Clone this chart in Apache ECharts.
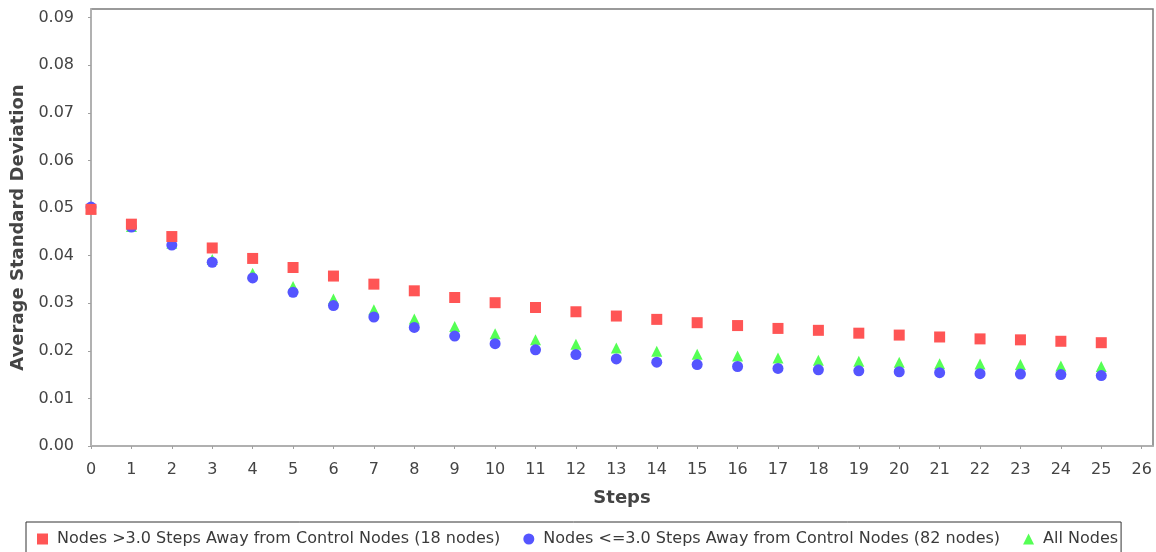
<!DOCTYPE html>
<html>
<head>
<meta charset="utf-8">
<script src="https://cdn.jsdelivr.net/npm/echarts@6/dist/echarts.min.js"></script>
<style>
  html, body { margin: 0; padding: 0; background: #fff; }
  #main { width: 1156px; height: 552px; }
</style>
</head>
<body>
<div id="main"></div>
<script>
// steps 0..25
const steps = [0, 1, 2, 3, 4, 5, 6, 7, 8, 9, 10, 11, 12, 13, 14, 15, 16, 17, 18, 19, 20, 21, 22, 23, 24, 25];

const farNodes = [0.0497, 0.0466, 0.0440, 0.0416, 0.0394, 0.0375, 0.0357, 0.0340, 0.0326, 0.0312,
  0.0301, 0.0291, 0.0282, 0.0273, 0.0266, 0.0259, 0.0253, 0.0247, 0.0243, 0.0237,
  0.0233, 0.0229, 0.0225, 0.0223, 0.0220, 0.0217];
const nearNodes = [0.0502, 0.0460, 0.0422, 0.0386, 0.0353, 0.0323, 0.0295, 0.0271, 0.0249, 0.0231,
  0.0215, 0.0202, 0.0192, 0.0183, 0.0176, 0.0171, 0.0167, 0.0163, 0.0160, 0.0158,
  0.0156, 0.0154, 0.0152, 0.0151, 0.0150, 0.0148];
const allNodes = [0.0500, 0.0461, 0.0426, 0.0392, 0.0363, 0.0335, 0.0309, 0.0286, 0.0267, 0.0251,
  0.0236, 0.0223, 0.0214, 0.0206, 0.0199, 0.0193, 0.0189, 0.0185, 0.0180, 0.0178,
  0.0176, 0.0173, 0.0172, 0.0171, 0.0168, 0.0167];

const xTicks = [0, 1, 2, 3, 4, 5, 6, 7, 8, 9, 10, 11, 12, 13, 14, 15, 16, 17, 18, 19, 20, 21, 22, 23, 24, 25, 26];
const yTicks = [0, 0.01, 0.02, 0.03, 0.04, 0.05, 0.06, 0.07, 0.08, 0.09];

const names = [
  'Nodes >3.0 Steps Away from Control Nodes (18 nodes)',
  'Nodes <=3.0 Steps Away from Control Nodes (82 nodes)',
  'All Nodes'
];

function pairs(ys) {
  let res = [];
  for (let i = 0; i < steps.length; i++) {
    res.push([steps[i], ys[i]]);
  }
  return res;
}

const font = 'DejaVu Sans';
const textColor = '#444';

let chart = echarts.init(document.getElementById('main'), null, {renderer: 'canvas'});

let option = {
  animation: false,
  backgroundColor: '#fff',
  grid: {
    left: 91, top: 9, width: 1062, height: 437,
    show: true, borderColor: '#7a7a7a', borderWidth: 1.5, backgroundColor: '#fff'
  },
  legend: {
    data: names,
    left: 26, top: 522,
    padding: [9, 3, 10, 11],
    itemGap: 23, itemWidth: 11, itemHeight: 11,
    borderColor: '#333', borderWidth: 1, borderRadius: 0,
    backgroundColor: '#fff',
    textStyle: {fontFamily: font, fontSize: 16, color: '#3a3a3a', padding: [0, 0, 0, 4]}
  },
  xAxis: {
    type: 'value', min: 0, max: 26.28, offset: 6,
    name: 'Steps', nameLocation: 'middle', nameGap: 37,
    nameTextStyle: {fontFamily: font, fontSize: 18, fontWeight: 'bold', color: textColor},
    axisLine: {show: true, lineStyle: {color: '#b8b8b8', width: 1.5}},
    axisTick: {show: true, length: 3, customValues: xTicks, lineStyle: {color: '#a0a0a0'}},
    axisLabel: {customValues: xTicks, margin: 10, fontFamily: font, fontSize: 16, color: textColor},
    splitLine: {show: false}
  },
  yAxis: {
    type: 'value', min: 0, max: 0.0918, offset: 6,
    name: 'Average Standard Deviation', nameLocation: 'middle', nameGap: 57,
    nameTextStyle: {fontFamily: font, fontSize: 18, fontWeight: 'bold', color: textColor},
    axisLine: {show: true, lineStyle: {color: '#b8b8b8', width: 1.5}},
    axisTick: {show: true, length: 3, customValues: yTicks, lineStyle: {color: '#a0a0a0'}},
    axisLabel: {
      customValues: yTicks, margin: 11, fontFamily: font, fontSize: 16, color: textColor,
      formatter: v => v.toFixed(2)
    },
    splitLine: {show: false}
  },
  series: [
    {
      name: names[0], type: 'scatter', symbol: 'rect', symbolSize: 11, z: 4,
      itemStyle: {color: '#ff5555', opacity: 1}, data: pairs(farNodes)
    },
    {
      name: names[1], type: 'scatter', symbol: 'circle', symbolSize: 11, z: 3,
      itemStyle: {color: '#5555ff', opacity: 1}, data: pairs(nearNodes)
    },
    {
      name: names[2], type: 'scatter', symbol: 'triangle', symbolSize: 11, z: 2,
      itemStyle: {color: '#55ff55', opacity: 1}, data: pairs(allNodes)
    }
  ]
};

chart.setOption(option);
</script>
</body>
</html>
